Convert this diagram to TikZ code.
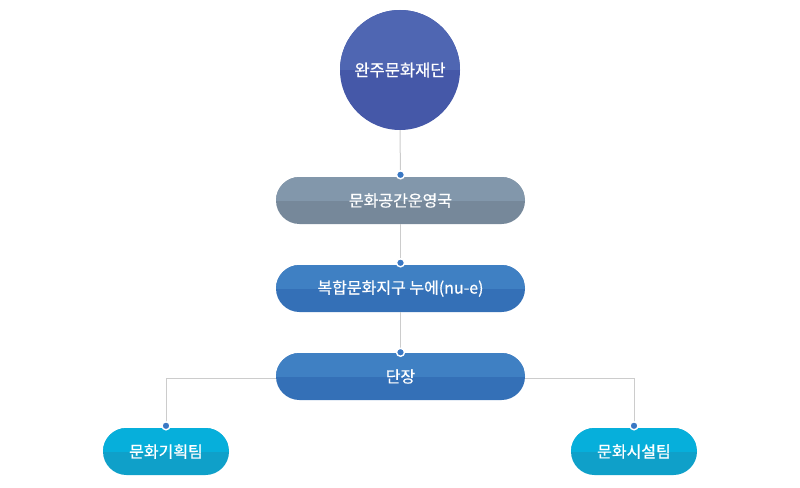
\documentclass[tikz,border=0pt]{standalone}
\usepackage{fontspec}
\newfontfamily\kofont[FakeBold=0.6]{Noto Sans CJK KR}
\usetikzlibrary{positioning}
\definecolor{headtop}{HTML}{4F66B2}
\definecolor{headbot}{HTML}{4558A8}
\definecolor{greytop}{HTML}{8297AB}
\definecolor{greybot}{HTML}{76889A}
\definecolor{bluetop}{HTML}{3F80C3}
\definecolor{bluebot}{HTML}{3470B7}
\definecolor{teamtop}{HTML}{06AFDB}
\definecolor{teambot}{HTML}{0FA0C9}
\definecolor{dotblue}{HTML}{3A78C4}
\definecolor{linkgrey}{HTML}{CCCCCC}

\begin{document}
\begin{tikzpicture}[x=1pt, y=-1pt,
    split/.style 2 args={fill=#2, path picture={
        \fill[#1, sharp corners] (path picture bounding box.north west) rectangle (path picture bounding box.east);}},
    unit/.style={rounded corners=23.5pt, minimum width=249pt, minimum height=47pt,
      inner sep=0pt, font=\kofont\fontsize{16}{18}\selectfont\color{white}},
    team/.style={unit, minimum width=126pt, rounded corners=23.5pt},
    link/.style={draw=linkgrey, line width=1pt},
    dot/.style={circle, fill=dotblue, draw=white, line width=1.4pt, minimum size=8pt, inner sep=0pt}
  ]
  \useasboundingbox (0,0) rectangle (800,487);

  \node [circle, minimum size=120pt, inner sep=0pt, split={headtop}{headbot},
    font=\kofont\fontsize{16.5}{18}\selectfont\color{white}] (found) at (400,70) {완주문화재단};
  \node [unit, split={greytop}{greybot}] (bureau) at (400.5,200.5) {문화공간운영국};
  \node [unit, split={bluetop}{bluebot}] (nue) at (400.5,288.5) {복합문화지구 누에(nu-e)};
  \node [unit, split={bluetop}{bluebot}] (chief) at (400.5,376.5) {단장};
  \node [team, split={teamtop}{teambot}] (plan) at (166,451.5) {문화기획팀};
  \node [team, split={teamtop}{teambot}] (facil) at (634,451.5) {문화시설팀};

  % connectors
  \draw [link] (found.south) -- (bureau.north);
  \draw [link] (bureau.south) -- (nue.north);
  \draw [link] (nue.south) -- (chief.north);
  \draw [link] ([yshift=-1.5pt]chief.west) -| (plan.north);
  \draw [link] ([yshift=-1.5pt]chief.east) -| (facil.north);

  \node [dot] (d1) at ([yshift=2pt]bureau.north) {};
  \node [dot] (d2) at ([yshift=2pt]nue.north) {};
  \node [dot] (d3) at ([yshift=0.5pt]chief.north) {};
  \node [dot] (d4) at ([yshift=2pt]plan.north) {};
  \node [dot] (d5) at ([yshift=2pt]facil.north) {};
\end{tikzpicture}
\end{document}
